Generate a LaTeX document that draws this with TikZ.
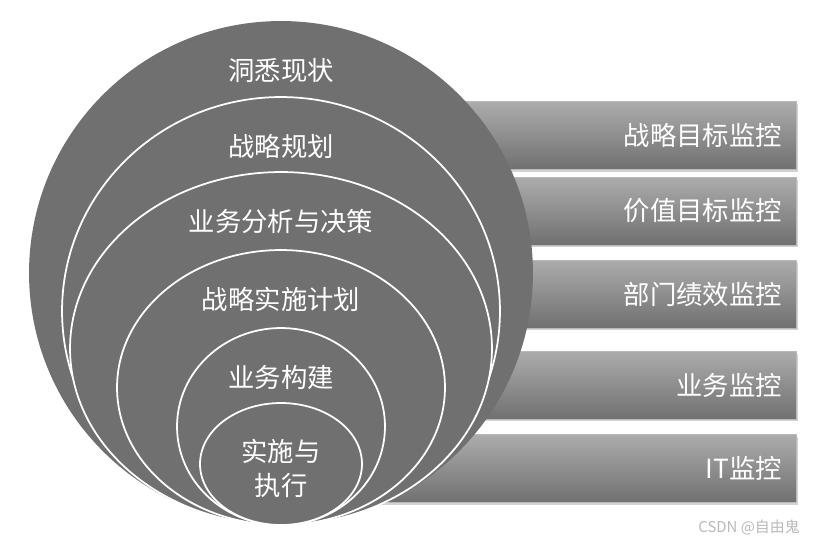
\documentclass[tikz,border=0pt]{standalone}
\usepackage{fontspec}
\setmainfont{Noto Sans CJK SC}
\usetikzlibrary{shapes.geometric,positioning,shadows}
\definecolor{discgray}{RGB}{112,112,112}
\definecolor{boxtop}{RGB}{172,172,172}
\definecolor{boxbot}{RGB}{112,112,112}

\begin{document}
\begin{tikzpicture}[x=0.02cm, y=-0.02cm,
    ring/.style={ellipse, draw=white, line width=1pt, fill=discgray, inner sep=0pt},
    ringtxt/.style={text=white, font=\fontsize{15}{19.5}\selectfont, align=center},
    monbox/.style={rectangle, top color=boxtop, bottom color=boxbot, draw=gray!55, line width=0.4pt,
        minimum height=1.36cm, inner xsep=0.28cm, text width=8.76cm, align=right, text=white,
        font=\fontsize{15}{18}\selectfont,
        drop shadow={shadow xshift=0.05cm, shadow yshift=-0.05cm, opacity=0.35}}]
    \useasboundingbox (0,0) rectangle (818,541);

    % Monitoring bars
    \node[monbox] (mon1) at (563,135.5) {战略目标监控};
    \node[monbox] (mon2) at (563,211) {价值目标监控};
    \node[monbox] (mon3) at (563,294) {部门绩效监控};
    \node[monbox] (mon4) at (563,385) {业务监控};
    \node[monbox] (mon5) at (563,468.5) {IT监控};

    % Nested rings
    \node[ring, draw=none, minimum width=10.08cm, minimum height=10.08cm] (ring1) at (281,273) {};
    \node[ring, minimum width=8.76cm, minimum height=8.56cm] (ring2) at (281,311) {};
    \node[ring, minimum width=8.44cm, minimum height=7.06cm] (ring3) at (281,348.5) {};
    \node[ring, minimum width=6.56cm, minimum height=5.5cm] (ring4) at (281,387.5) {};
    \node[ring, minimum width=4.16cm, minimum height=3.94cm] (ring5) at (281,426.5) {};
    \node[ring, minimum width=3.24cm, minimum height=2.44cm] (ring6) at (281,464) {};

    % Ring labels
    \node[ringtxt] (txt1) at ([yshift=-1cm]ring1.north) {洞悉现状};
    \node[ringtxt] (txt2) at ([yshift=-1cm]ring2.north) {战略规划};
    \node[ringtxt] (txt3) at ([yshift=-1cm]ring3.north) {业务分析与决策};
    \node[ringtxt] (txt4) at ([yshift=-1cm]ring4.north) {战略实施计划};
    \node[ringtxt] (txt5) at ([yshift=-1cm]ring5.north) {业务构建};
    \node[ringtxt] (txt6) at ([yshift=-1.32cm]ring6.north) {实施与\\执行};

    % Watermark
    \node[font=\fontsize{8.5}{10}\selectfont, text=gray!55, anchor=east] (mark) at (806,527) {CSDN @自由鬼};
\end{tikzpicture}
\end{document}
